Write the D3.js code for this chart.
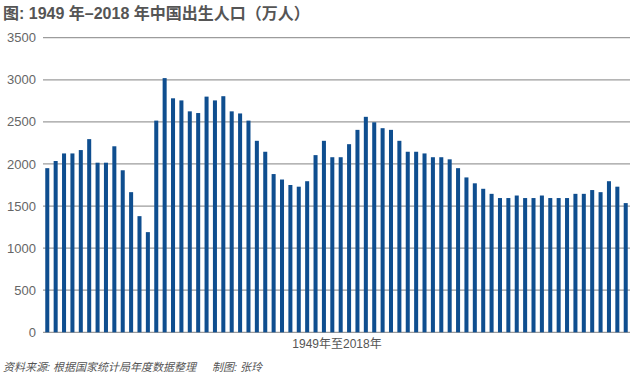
<!DOCTYPE html>
<html lang="zh">
<head>
<meta charset="utf-8">
<script src="https://d3js.org/d3.v7.min.js"></script>
<style>
  body {
    margin: 0;
    background: #fff;
    font-family: "Liberation Sans", "Noto Sans CJK SC", sans-serif;
  }
  .grid line {
    stroke: #9c9c9c;
    stroke-width: 1.2;
  }
  .tick-label {
    fill: #666;
    font-size: 13px;
  }
  .footer {
    fill: #555;
    font-size: 11px;
    font-style: italic;
  }
</style>
</head>
<body>
<div id="chart"></div>
<script>

// chart size
var width = 641,
    height = 377;

// years and births (10k people)
var years = d3.range(1949, 2019);
var births = [
  1950, 2035, 2125, 2125, 2165, 2295, 2015, 2015, 2210, 1925,
  1665, 1380, 1190, 2515, 3020, 2780, 2755, 2625, 2605, 2800,
  2755, 2805, 2625, 2600, 2515, 2275, 2145, 1880, 1815, 1750,
  1730, 1795, 2105, 2275, 2080, 2080, 2235, 2405, 2560, 2495,
  2425, 2405, 2275, 2145, 2145, 2125, 2080, 2080, 2055, 1950,
  1840, 1770, 1705, 1645, 1595, 1595, 1625, 1595, 1595, 1625,
  1595, 1595, 1595, 1645, 1645, 1690, 1665, 1795, 1730, 1535
];
var yTicks = [0, 500, 1000, 1500, 2000, 2500, 3000, 3500];

var svg = d3.select("#chart").append("svg")
    .attr("width", width)
    .attr("height", height);

var x = d3.scaleBand()
    .domain(years)
    .range([43, 630])
    .paddingInner(0.52)
    .paddingOuter(0.27);

var y = d3.scaleLinear()
    .domain([0, 3500])
    .range([332.3, 37.7]);

// horizontal grid lines
svg.append("g")
    .attr("class", "grid")
  .selectAll("line")
    .data(yTicks)
  .enter().append("line")
    .attr("x1", 43)
    .attr("x2", 630)
    .attr("y1", function(d) { return y(d); })
    .attr("y2", function(d) { return y(d); });

// y tick labels
svg.append("g")
  .selectAll("text")
    .data(yTicks)
  .enter().append("text")
    .attr("class", "tick-label")
    .attr("x", 36)
    .attr("y", function(d) { return y(d); })
    .attr("dy", "0.35em")
    .attr("text-anchor", "end")
    .text(function(d) { return d; });

// bars
svg.append("g")
  .selectAll("rect")
    .data(births)
  .enter().append("rect")
    .attr("x", function(d, i) { return x(years[i]); })
    .attr("width", x.bandwidth())
    .attr("y", function(d) { return y(d); })
    .attr("height", function(d) { return y(0) - y(d); })
    .attr("fill", "#0f4e8f");

// title
svg.append("text")
    .attr("x", 3)
    .attr("y", 19)
    .attr("fill", "#555")
    .attr("font-size", "16px")
    .attr("font-weight", "bold")
    .text("图: 1949 年–2018 年中国出生人口（万人）");

// x axis caption
svg.append("text")
    .attr("x", 337)
    .attr("y", 348)
    .attr("fill", "#555")
    .attr("font-size", "12px")
    .attr("text-anchor", "middle")
    .text("1949年至2018年");

// source line
svg.append("text")
    .attr("class", "footer")
    .attr("x", 3)
    .attr("y", 371)
    .text("资料来源: 根据国家统计局年度数据整理");

svg.append("text")
    .attr("class", "footer")
    .attr("x", 212)
    .attr("y", 371)
    .text("制图: 张玲");

</script>
</body>
</html>
